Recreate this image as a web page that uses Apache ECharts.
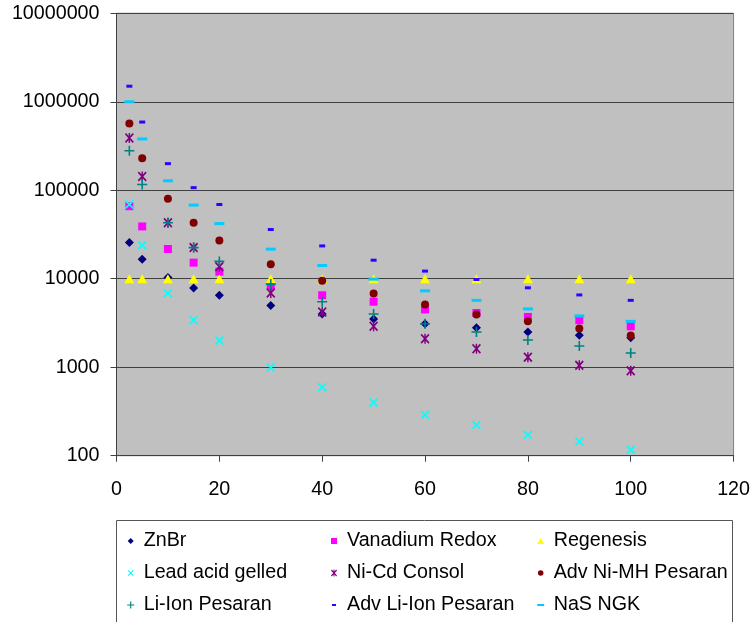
<!DOCTYPE html>
<html><head><meta charset="utf-8">
<script src="https://cdn.jsdelivr.net/npm/echarts@6/dist/echarts.min.js"></script>
<style>html,body{margin:0;padding:0;background:#fff}#c{width:753px;height:622px}</style>
</head><body><div id="c"></div>
<script>
// ---- data ----
const seriesNames = ['ZnBr','Vanadium Redox','Regenesis','Lead acid gelled','Ni-Cd Consol','Adv Ni-MH Pesaran','Li-Ion Pesaran','Adv Li-Ion Pesaran','NaS NGK'];
const xValues   = [2.5, 5, 10, 15, 20, 30, 40, 50, 60, 70, 80, 90, 100];
const znbr      = [25600, 16600, 10300, 7850, 6500, 5000, 4000, 3500, 3100, 2800, 2500, 2300, 2150];
const vanadium  = [66000, 39000, 21700, 15200, 12000, 8300, 6500, 5500, 4500, 4100, 3700, 3400, 2900];
const regenesis = [10000, 10000, 10000, 10000, 10000, 10000, 10000, 10000, 10000, 10000, 10000, 10000, 10000];
const leadAcid  = [69000, 23900, 6840, 3400, 2000, 990, 595, 400, 290, 222, 172, 145, 117];
const niCd      = [390000, 143000, 43000, 22500, 13700, 6900, 4200, 2900, 2100, 1620, 1300, 1050, 910];
const niMH      = [570000, 230000, 80000, 43000, 27000, 14600, 9500, 6800, 5100, 3950, 3300, 2740, 2290];
const liIon     = [280000, 116000, 43000, 22500, 15700, 8700, 5500, 4000, 3100, 2500, 2030, 1740, 1450];
const advLiIon  = [1500000, 590000, 200000, 107000, 69000, 36000, 23500, 16200, 12200, 9800, 7900, 6560, 5700];
const nas       = [1000000, 380000, 128000, 68000, 42000, 21600, 14100, 9900, 7300, 5700, 4560, 3800, 3300];
const yTickValues = [100, 1000, 10000, 100000, 1000000, 10000000];
const xTickValues = [0, 20, 40, 60, 80, 100, 120];

// ---- styles ----
const FONT = "'Liberation Sans', Arial, sans-serif";
const styles = [
  {kind:'diamond', color:'#000080', size:[9,9],  icon:[6,6]},
  {kind:'square',  color:'#FF00FF', size:[8,8],  icon:[6,6]},
  {kind:'triangle',color:'#FFFF00', size:[10,9], icon:[7,6]},
  {kind:'cross',   color:'#00FFFF', size:[9,9],  icon:[6,6]},
  {kind:'star',    color:'#800080', size:[9,10], icon:[6,7]},
  {kind:'circle',  color:'#800000', size:[8,8],  icon:[5.5,5.5]},
  {kind:'plus',    color:'#008080', size:[10,10],icon:[7,7]},
  {kind:'square',  color:'#3300FF', size:[6,3],  icon:[4,2]},
  {kind:'square',  color:'#00CCFF', size:[10,3], icon:[7,2]}
];
const values = [znbr, vanadium, regenesis, leadAcid, niCd, niMH, liIon, advLiIon, nas];

function glyph(kind, x, y, w, h) {
  const X = u => +(x + u * w / 10).toFixed(3);
  const Y = v => +(y + v * h / 10).toFixed(3);
  const poly = pts => 'M' + pts.map(p => X(p[0]) + ',' + Y(p[1])).join(' L') + ' Z';
  const t = 1.3, b = 0.8;
  switch (kind) {
    case 'diamond': return poly([[5,0],[10,5],[5,10],[0,5]]);
    case 'square': return poly([[0,0],[10,0],[10,10],[0,10]]);
    case 'triangle': return poly([[5,0],[10,10],[0,10]]);
    case 'circle': return 'M' + X(0) + ',' + Y(5) + ' A' + (w/2) + ',' + (h/2) + ' 0 1 1 ' + X(10) + ',' + Y(5) +
                          ' A' + (w/2) + ',' + (h/2) + ' 0 1 1 ' + X(0) + ',' + Y(5) + ' Z';
    case 'cross': return poly([[0,t],[t,0],[10,10-t],[10-t,10]]) + ' ' + poly([[10-t,0],[10,t],[t,10],[0,10-t]]);
    case 'star': return glyph('cross', x, y, w, h) + ' ' + poly([[5-b,0],[5+b,0],[5+b,10],[5-b,10]]);
    case 'plus': return poly([[5-b,0],[5+b,0],[5+b,5-b],[10,5-b],[10,5+b],[5+b,5+b],[5+b,10],[5-b,10],[5-b,5+b],[0,5+b],[0,5-b],[5-b,5-b]]);
  }
}
function iconPath(st) {
  const w = st.icon[0], h = st.icon[1];
  return 'path://M0,0 M10,10 ' + glyph(st.kind, 5 - w/2, 5 - h/2, w, h);
}

const series = seriesNames.map((name, i) => ({
  name: name,
  type: 'scatter',
  data: xValues.map((x, j) => [x, values[i][j]]),
  symbol: 'path://' + glyph(styles[i].kind, 0, 0, 10, 10),
  symbolSize: styles[i].size,
  itemStyle: {color: styles[i].color, opacity: 1},
  emphasis: {disabled: true},
  z: 2 + i * 0.01
}));

const legendCols = [[0,3,6],[1,4,7],[2,5,8]];
const legendLefts = [125.7, 329, 535.7];
const legends = legendCols.map((col, c) => ({
  orient: 'vertical',
  left: legendLefts[c],
  top: 531,
  padding: 0,
  itemGap: 12,
  itemWidth: 10,
  itemHeight: 10,
  selectedMode: false,
  data: col.map(i => ({name: seriesNames[i], icon: iconPath(styles[i])})),
  textStyle: {fontFamily: FONT, fontSize: 19.7, color: '#000', lineHeight: 20, padding: [0,0,0,3]}
}));

const chart = echarts.init(document.getElementById('c'), null, {renderer: 'canvas'});
chart.setOption({
  animation: false,
  backgroundColor: '#ffffff',
  grid: {left: 116.5, right: 17, top: 13.3, bottom: 166.3, show: true,
         backgroundColor: '#C0C0C0', borderColor: '#808080', borderWidth: 1},
  xAxis: {
    type: 'value', min: xTickValues[0], max: xTickValues[xTickValues.length-1], interval: 20,
    axisLine: {show: true, onZero: false, lineStyle: {color: '#404040', width: 1}},
    axisTick: {show: true, length: 6, lineStyle: {color: '#404040'}},
    axisLabel: {margin: 24, fontSize: 19.7, fontFamily: FONT, color: '#000'},
    splitLine: {show: false}
  },
  yAxis: {
    type: 'log', logBase: 10, min: yTickValues[0], max: yTickValues[yTickValues.length-1], splitNumber: 5,
    axisLine: {show: true, lineStyle: {color: '#404040', width: 1}},
    axisTick: {show: true, length: 6, lineStyle: {color: '#404040'}},
    axisLabel: {margin: 17, fontSize: 19.7, fontFamily: FONT, color: '#000',
                formatter: v => String(Math.round(v))},
    splitLine: {show: true, lineStyle: {color: '#404040', width: 1}},
    minorTick: {show: false}, minorSplitLine: {show: false}
  },
  legend: legends,
  graphic: [{
    type: 'rect', silent: true, z: 0,
    shape: {x: 116.5, y: 520.5, width: 616, height: 120},
    style: {fill: 'none', stroke: '#555555', lineWidth: 1}
  }],
  series: series
});
</script>
</body></html>
